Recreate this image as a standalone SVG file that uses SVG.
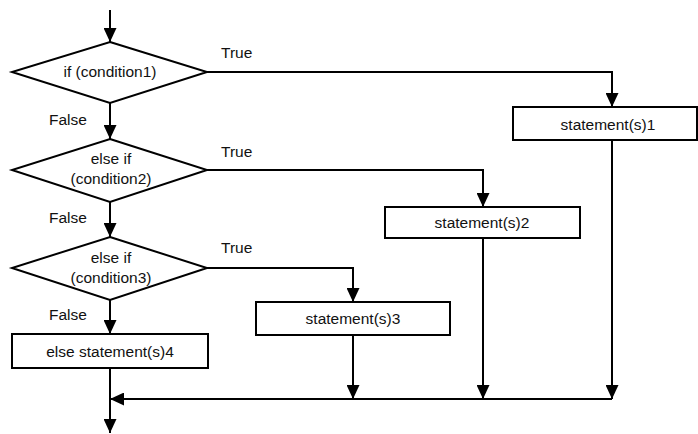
<svg xmlns="http://www.w3.org/2000/svg" width="698" height="434" viewBox="0 0 698 434">
  <defs>
    <marker id="arrow" markerUnits="userSpaceOnUse" markerWidth="14" markerHeight="13" refX="14" refY="6.5" orient="auto">
      <path d="M0,0 L14,6.5 L0,13 z" fill="#000"/>
    </marker>
  </defs>
  <style>
    .shape { fill: #fff; stroke: #000; stroke-width: 2; }
    .edge { fill: none; stroke: #000; stroke-width: 2; }
    .arr { marker-end: url(#arrow); }
    text { font-family: "Liberation Sans", Arial, sans-serif; font-size: 15.5px; fill: #111; }
    .c { text-anchor: middle; }
  </style>
  <rect width="698" height="434" fill="#fff"/>

  <g id="connectors">
    <path class="edge arr" d="M110,10 V42"/>
    <path class="edge arr" d="M110,103 V139"/>
    <path class="edge arr" d="M110,202 V237"/>
    <path class="edge arr" d="M110,300 V334"/>
    <path class="edge arr" d="M110,368 V433"/>
    <path class="edge arr" d="M207,72 H612 V107"/>
    <path class="edge arr" d="M207,170 H483 V207"/>
    <path class="edge arr" d="M207,268 H353 V302"/>
    <path class="edge arr" d="M353,335 V399"/>
    <path class="edge arr" d="M483,238 V399"/>
    <path class="edge arr" d="M612,140 V399"/>
    <path class="edge arr" d="M612,399 H110"/>
    <text x="221" y="58">True</text>
    <text x="221" y="157">True</text>
    <text x="221" y="253">True</text>
    <text x="49" y="125">False</text>
    <text x="49" y="223">False</text>
    <text x="49" y="320">False</text>
  </g>

  <g id="cond1">
    <polygon class="shape" points="110,42 207,72 110,103 12,72"/>
    <text class="c" x="110" y="77">if (condition1)</text>
  </g>
  <g id="cond2">
    <polygon class="shape" points="110,139 207,170 110,202 12,170"/>
    <text class="c" x="111" y="164">else if</text>
    <text class="c" x="111" y="184">(condition2)</text>
  </g>
  <g id="cond3">
    <polygon class="shape" points="110,237 207,268 110,300 12,268"/>
    <text class="c" x="111" y="263">else if</text>
    <text class="c" x="111" y="283">(condition3)</text>
  </g>
  <g id="stmt1">
    <rect class="shape" x="513" y="107" width="184" height="33"/>
    <text class="c" x="608" y="130">statement(s)1</text>
  </g>
  <g id="stmt2">
    <rect class="shape" x="385" y="207" width="195" height="31"/>
    <text class="c" x="482" y="228">statement(s)2</text>
  </g>
  <g id="stmt3">
    <rect class="shape" x="256" y="302" width="194" height="33"/>
    <text class="c" x="353" y="324">statement(s)3</text>
  </g>
  <g id="stmt4">
    <rect class="shape" x="12" y="334" width="196" height="34"/>
    <text class="c" x="110" y="357">else statement(s)4</text>
  </g>
</svg>
